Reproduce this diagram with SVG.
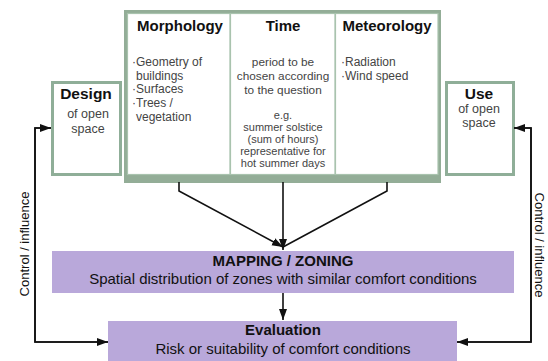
<svg xmlns="http://www.w3.org/2000/svg" width="548" height="361" viewBox="0 0 548 361">
<style>
.t{font-family:"Liberation Sans",Arial,sans-serif;}
.h{font-family:"Liberation Sans",Arial,sans-serif;font-weight:bold;fill:#111;}
.g{font-family:"Liberation Sans",Arial,sans-serif;fill:#444;font-size:12px;}
.m{font-family:"Liberation Sans",Arial,sans-serif;fill:#444;font-size:11.8px;}
.s{font-family:"Liberation Sans",Arial,sans-serif;fill:#444;font-size:11px;}
.o{font-family:"Liberation Sans",Arial,sans-serif;fill:#444;font-size:12.5px;}
.side{fill:#fff;stroke:#8fae98;stroke-width:3;}
.inner{fill:#fff;stroke:#a9c3ae;stroke-width:1.2;}
.purple{fill:#b9a8da;}
.ln{fill:none;stroke:#111;stroke-width:1.6;}
</style>
<defs>
<marker id="ah" markerWidth="12" markerHeight="10" refX="11" refY="5" orient="auto" markerUnits="userSpaceOnUse">
<path d="M0,1 L11,5 L0,9 Z" fill="#111"/>
</marker>
</defs>
<rect width="548" height="361" fill="#fff"/>

<g id="frame">
<rect x="124" y="10" width="317" height="173" fill="#93ad97"/>
</g>
<g id="morphology">
<rect class="inner" x="127.5" y="13.5" width="102.5" height="161"/>
<text class="h" x="180" y="31" font-size="15" text-anchor="middle">Morphology</text>
<text class="g" x="132" y="66">·Geometry of</text>
<text class="g" x="136" y="80">buildings</text>
<text class="g" x="132" y="93">·Surfaces</text>
<text class="g" x="132" y="107">·Trees /</text>
<text class="g" x="136" y="121">vegetation</text>
</g>
<g id="time">
<rect class="inner" x="230.5" y="13.5" width="104.5" height="161"/>
<text class="h" x="283" y="31" font-size="15" text-anchor="middle">Time</text>
<text class="m" x="283" y="66" text-anchor="middle">period to be</text>
<text class="m" x="283" y="80" text-anchor="middle">chosen according</text>
<text class="m" x="283" y="94" text-anchor="middle">to the question</text>
<text class="s" x="283" y="119" text-anchor="middle">e.g.</text>
<text class="s" x="283" y="131" text-anchor="middle">summer solstice</text>
<text class="s" x="283" y="143" text-anchor="middle">(sum of hours)</text>
<text class="s" x="283" y="155" text-anchor="middle">representative for</text>
<text class="s" x="283" y="167" text-anchor="middle">hot summer days</text>
</g>
<g id="meteorology">
<rect class="inner" x="335.5" y="13.5" width="102.5" height="161"/>
<text class="h" x="387" y="31" font-size="15" text-anchor="middle">Meteorology</text>
<text class="g" x="341" y="66">·Radiation</text>
<text class="g" x="341" y="80">·Wind speed</text>
</g>
<g id="design">
<rect class="side" x="52.5" y="82.5" width="68" height="92"/>
<text class="h" x="86" y="99" font-size="15.5" text-anchor="middle">Design</text>
<text class="o" x="88" y="118" text-anchor="middle">of open</text>
<text class="o" x="88" y="133" text-anchor="middle">space</text>
</g>
<g id="use">
<rect class="side" x="446.5" y="82.5" width="67" height="92"/>
<text class="h" x="479" y="99" font-size="15.5" text-anchor="middle">Use</text>
<text class="o" x="479" y="113" text-anchor="middle">of open</text>
<text class="o" x="479" y="127" text-anchor="middle">space</text>
</g>
<g id="mapping">
<rect class="purple" x="52" y="251" width="462" height="42"/>
<text class="h" x="283" y="266" font-size="15" text-anchor="middle">MAPPING / ZONING</text>
<text class="t" x="283" y="284" font-size="15" fill="#111" text-anchor="middle">Spatial distribution of zones with similar comfort conditions</text>
</g>
<g id="evaluation">
<rect class="purple" x="108" y="321" width="349" height="40"/>
<text class="h" x="283" y="335" font-size="15" text-anchor="middle">Evaluation</text>
<text class="t" x="283" y="354" font-size="15" fill="#111" text-anchor="middle">Risk or suitability of comfort conditions</text>
</g>
<g id="connectors">
<polyline class="ln" points="179,182 179,191 283,247" marker-end="url(#ah)"/>
<polyline class="ln" points="387,182 387,191 283,247"/>
<line class="ln" x1="283" y1="182" x2="283" y2="250" marker-end="url(#ah)"/>
<line class="ln" x1="283" y1="293" x2="283" y2="320" marker-end="url(#ah)"/>
<polyline class="ln" points="51,128 35,128 35,342 108,342" marker-end="url(#ah)"/>
<polyline class="ln" points="108,342 35,342 35,128 51,128" marker-end="url(#ah)"/>
<polyline class="ln" points="514,128 531,128 531,342 457,342" marker-end="url(#ah)"/>
<polyline class="ln" points="457,342 531,342 531,128 514,128" marker-end="url(#ah)"/>
<text class="t" font-size="13" fill="#111" text-anchor="middle" transform="translate(29,244) rotate(-90)">Control / influence</text>
<text class="t" font-size="13" fill="#111" text-anchor="middle" transform="translate(535,245) rotate(90)">Control / influence</text>
</g>
</svg>
